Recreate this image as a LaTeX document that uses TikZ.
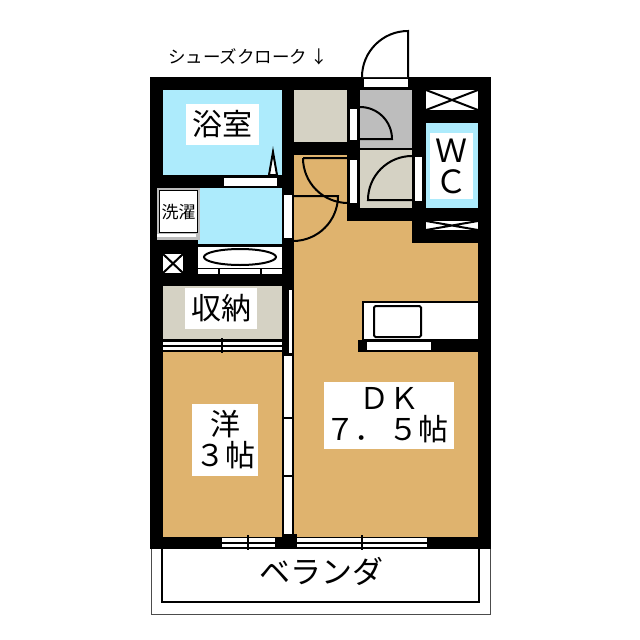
\documentclass[tikz,border=0pt]{standalone}
\usepackage{fontspec}
\setmainfont{Noto Sans CJK JP}
\definecolor{roomfloor}{HTML}{DFB36E}
\definecolor{bathblue}{HTML}{ADEBFC}
\definecolor{storebeige}{HTML}{D5D2C4}
\definecolor{entrygrey}{HTML}{BDBDBD}
\tikzset{
    wall/.style={fill=black},
    glass/.style={fill=white},
    swing/.style={draw=black, line width=2pt},
    labelbox/.style={fill=white, align=center, inner sep=0pt, font=\fontsize{#1}{31}\selectfont},
    labelbox/.default=30
}
\begin{document}
\begin{tikzpicture}[x=1pt, y=-1pt]
    \useasboundingbox (0, 0) rectangle (640, 640);
    \fill[white] (0, 0) rectangle (640, 640);

    % floors
    \fill[roomfloor] (150, 77) rectangle (491, 549);
    \fill[bathblue] (163, 90) rectangle (282, 175);
    \fill[bathblue] (196, 188) rectangle (282, 244);
    \fill[white] (198, 247) rectangle (282, 274);
    \fill[storebeige] (163, 286) rectangle (282, 339);
    \fill[storebeige] (294, 90) rectangle (347, 142);
    \fill[entrygrey] (360, 90) rectangle (412, 148);
    \fill[storebeige] (360, 150) rectangle (412, 208);
    \fill[bathblue] (426, 123) rectangle (478, 208);

    % walls
    \fill[wall] (150, 77) rectangle (491, 90);
    \fill[wall] (150, 77) rectangle (163, 549);
    \fill[wall] (478, 77) rectangle (491, 549);
    \fill[wall] (150, 537) rectangle (491, 549);
    \fill[wall] (282, 77) rectangle (294, 537);
    \fill[wall] (347, 77) rectangle (360, 221);
    \fill[wall] (412, 77) rectangle (426, 243);
    \fill[wall] (294, 142) rectangle (360, 155);
    \fill[wall] (360, 148) rectangle (412, 150);
    \fill[wall] (347, 208) rectangle (491, 221);
    \fill[wall] (412, 230) rectangle (491, 243);
    \fill[wall] (412, 110) rectangle (491, 123);
    \fill[wall] (150, 175) rectangle (282, 188);
    \fill[wall] (150, 240) rectangle (198, 286);
    \fill[wall] (196, 244) rectangle (282, 247);
    \fill[wall] (198, 268) rectangle (282, 286);
    \fill[wall] (163, 339) rectangle (282, 352);
    \fill[wall] (358, 340) rectangle (478, 352);

    % washer pan
    \fill[entrygrey] (157, 188) rectangle (200, 240);
    \fill[black] (159, 190) rectangle (198, 233);
    \fill[white] (160, 191) rectangle (197, 232);
    \fill[white] (157, 234) rectangle (196, 237);

    % vanity
    \draw[black, line width=2pt] (240, 257) ellipse (36 and 8);
    \fill[white] (198, 269) rectangle (218, 274);
    \fill[white] (220, 269) rectangle (260, 274);
    \fill[white] (262, 269) rectangle (282, 274);

    % shaft and closets with crossed marks
    \fill[white] (163, 254) rectangle (183, 273);
    \draw[black, line width=2pt] (163, 254) -- (183, 273) (183, 254) -- (163, 273);
    \fill[white] (426, 90) rectangle (478, 110);
    \draw[black, line width=2pt] (426, 90) -- (478, 110) (478, 90) -- (426, 110);
    \fill[white] (426, 221) rectangle (478, 230);
    \draw[black, line width=2pt] (426, 221) -- (478, 230) (478, 221) -- (426, 230);

    % openings in the walls
    \fill[glass] (364, 79) rectangle (408, 87);
    \fill[glass] (224, 178) rectangle (277, 186);
    \fill[glass] (350, 109) rectangle (357, 140);
    \fill[glass] (350, 160) rectangle (357, 203);
    \fill[glass] (415, 157) rectangle (422, 201);
    \fill[glass] (284, 195) rectangle (292, 238);
    \fill[glass] (289, 290) rectangle (292, 353);
    \foreach \ya/\yb in {356/416.5, 418.5/474.5, 476.5/534} {
        \fill[glass] (284, \ya) rectangle (292, \yb);
    }
    \fill[black] (282, 534) rectangle (297, 549);

    % sliding doors
    \fill[glass] (163, 342) rectangle (282, 345);
    \fill[glass] (163, 347) rectangle (282, 350);
    \draw[black, line width=2pt] (222, 338) -- (222, 353);
    \foreach \xa/\xb/\xt in {222/275/248, 297/427/362} {
        \fill[glass] (\xa, 538) rectangle (\xb, 541.5);
        \fill[glass] (\xa, 543.5) rectangle (\xb, 547);
        \draw[black, line width=1.5pt] (\xt, 535) -- (\xt, 550);
    }

    % doors
    \draw[swing, fill=white] (362, 77) arc[start angle=180, end angle=270, radius=46] -- (408, 77);
    \draw[swing] (360, 107) arc[start angle=270, end angle=360, radius=32] -- (360, 139);
    \draw[swing] (412, 156) arc[start angle=270, end angle=180, radius=44] -- (412, 200);
    \draw[swing] (303, 158) arc[start angle=180, end angle=90, radius=45] (303, 158) -- (348, 158);
    \draw[swing] (293, 196) -- (338, 196) arc[start angle=0, end angle=90, radius=45];
    \draw[swing, fill=white] (277, 175) -- (273, 152) -- (269, 175) -- cycle;

    % kitchen
    \fill[black] (362, 301) rectangle (478, 340);
    \fill[white] (364, 303) rectangle (478, 339);
    \draw[black, line width=2pt, rounded corners=1.5pt] (374, 306) rectangle (421, 337);
    \fill[glass] (367, 342) rectangle (431, 350);

    % veranda
    \draw[black!70, line width=1pt] (151, 549) -- (151, 614) -- (490.5, 614) -- (490.5, 549);
    \draw[black, line width=2pt] (162, 549) -- (162, 602) -- (479, 602) -- (479, 549);

    % labels
    \node[font=\fontsize{17.5}{17.5}\selectfont, anchor=west, inner sep=0pt] (shoes) at (168, 57) {シューズクローク\hspace{3pt}↓};
    \node[labelbox, minimum width=73, minimum height=41] (bath) at (222.5, 124.5) {浴室};
    \node[labelbox, minimum width=72, minimum height=41] (store) at (221, 308.5) {収納};
    \node[labelbox=17, minimum width=35, minimum height=38] (wash) at (178.5, 212) {洗濯};
    \node[labelbox=32, minimum width=43, minimum height=66] (wc) at (451.5, 166) {Ｗ\\Ｃ};
    \node[labelbox, minimum width=66, minimum height=72] (west) at (225, 440) {洋\\３帖};
    \node[labelbox, minimum width=130, minimum height=67] (dk) at (389, 415.5) {ＤＫ\\\hspace*{-4pt}７\hspace{-1pt}．\hspace{5pt}５帖};
    \node[font=\fontsize{31}{31}\selectfont] (veranda) at (321.5, 571) {ベランダ};
\end{tikzpicture}
\end{document}
